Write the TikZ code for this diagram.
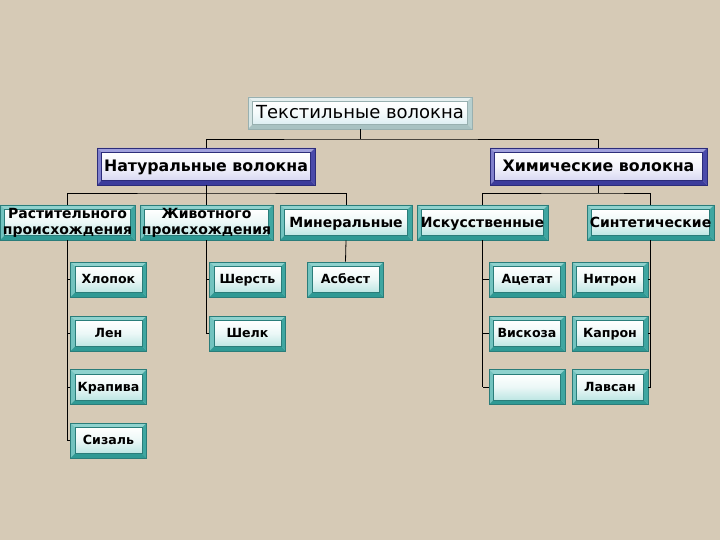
\documentclass[tikz,border=0pt]{standalone}
\usepackage{fontspec}
\setmainfont{DejaVu Sans}
\definecolor{bg}{HTML}{D6CAB6}
\definecolor{tealT}{HTML}{8FD2CE}
\definecolor{tealL}{HTML}{72C3BF}
\definecolor{tealBt}{HTML}{2F9994}
\definecolor{tealR}{HTML}{3FA6A1}
\definecolor{tealF}{HTML}{BDE6E3}
\definecolor{tealK}{HTML}{2A7D7A}
\definecolor{blueT}{HTML}{A0A0DC}
\definecolor{blueL}{HTML}{8080CC}
\definecolor{blueBt}{HTML}{3C3C9C}
\definecolor{blueR}{HTML}{4A4AAA}
\definecolor{blueF}{HTML}{D8D8F2}
\definecolor{blueK}{HTML}{2C2C7A}
\definecolor{grayT}{HTML}{E6F0F0}
\definecolor{grayL}{HTML}{D6E6E6}
\definecolor{grayBt}{HTML}{A8C2C2}
\definecolor{grayR}{HTML}{B6CFCF}
\definecolor{grayF}{HTML}{DCEFF2}
\definecolor{grayK}{HTML}{98B0B0}
\newcommand\bevelpic[7]{%
  \coordinate (pSW) at (path picture bounding box.south west);
  \coordinate (pNE) at (path picture bounding box.north east);
  \coordinate (pNW) at (pSW |- pNE);
  \coordinate (pSE) at (pNE |- pSW);
  \coordinate (iSW) at ([shift={(4.5pt,4.5pt)}]pSW);
  \coordinate (iNE) at ([shift={(-4.5pt,-4.5pt)}]pNE);
  \coordinate (iNW) at (iSW |- iNE);
  \coordinate (iSE) at (iNE |- iSW);
  \fill[#1] (pNW) -- (pNE) -- (iNE) -- (iNW) -- cycle;
  \fill[#2] (pNW) -- (pSW) -- (iSW) -- (iNW) -- cycle;
  \fill[#3] (pSW) -- (pSE) -- (iSE) -- (iSW) -- cycle;
  \fill[#4] (pSE) -- (pNE) -- (iNE) -- (iSE) -- cycle;
  \shade[top color=white, bottom color=#6, middle color=white!70!#6] (iSW) rectangle (iNE);
  \draw[#7, line width=0.5pt] (iSW) rectangle (iNE);
}
\tikzset{
  bx/.style={inner sep=0pt, line width=0.7pt},
  tealbox/.style={bx, draw=tealK, path picture={\bevelpic{tealT}{tealL}{tealBt}{tealR}{white}{tealF}{tealK}}},
  bluebox/.style={bx, draw=blueK, path picture={\bevelpic{blueT}{blueL}{blueBt}{blueR}{white}{blueF}{blueK}}},
  graybox/.style={bx, draw=grayK, path picture={\bevelpic{grayT}{grayL}{grayBt}{grayR}{white}{grayF}{grayK}}},
  leaf/.style={tealbox, minimum width=76pt, minimum height=35pt, text height=9.5pt, text depth=1.5pt, font=\bfseries\fontsize{12.6}{15}\selectfont},
  mid/.style={tealbox, minimum height=35pt, text height=10.5pt, text depth=1.5pt, font=\bfseries\fontsize{14}{16}\selectfont},
  twoline/.style={text height=, text depth=, align=center},
  lvl/.style={bluebox, minimum height=37pt, text height=11.5pt, text depth=1.5pt, font=\bfseries\fontsize{15.8}{19}\selectfont},
  conn/.style={draw=black, line width=0.8pt}
}
\begin{document}
\begin{tikzpicture}[x=1pt, y=-1pt]
\fill[bg] (0,0) rectangle (720,540);
\useasboundingbox (0,0) rectangle (720,540);
% top
\node[graybox, minimum width=224pt, minimum height=32pt, text height=13pt, text depth=1.5pt, font=\fontsize{18}{21}\selectfont] (top) at (360,113) {Текстильные волокна};
% level 1
\node[lvl, minimum width=218pt] (nat) at (206,166.5) {Натуральные волокна};
\node[lvl, minimum width=217pt] (chem) at (598.5,166.5) {Химические волокна};
% level 2
\node[mid, twoline, minimum width=135pt] (rast) at (67.5,222.5) {Растительного\\происхождения};
\node[mid, twoline, minimum width=133pt] (zhiv) at (206.5,222.5) {Животного\\происхождения};
\node[mid, minimum width=132pt] (min) at (346,222.5) {Минеральные};
\node[mid, minimum width=131pt] (isk) at (482.5,222.5) {Искусственные};
\node[mid, minimum width=127pt] (sint) at (650.5,222.5) {Синтетические};
% leaves
\node[leaf] (hlop) at (108.5,279.5) {Хлопок};
\node[leaf] (len) at (108.5,333.5) {Лен};
\node[leaf] (krap) at (108.5,387) {Крапива};
\node[leaf] (siz) at (108.5,440.5) {Сизаль};
\node[leaf] (sher) at (247.5,279.5) {Шерсть};
\node[leaf] (shelk) at (247.5,333.5) {Шелк};
\node[leaf] (asb) at (345.5,279.5) {Асбест};
\node[leaf] (acet) at (527,279.5) {Ацетат};
\node[leaf] (visk) at (527,333.5) {Вискоза};
\node[leaf] (empt) at (527,387) {};
\node[leaf] (nitr) at (610,279.5) {Нитрон};
\node[leaf] (kapr) at (610,333.5) {Капрон};
\node[leaf] (lavs) at (610,387) {Лавсан};
% connectors
\coordinate (b0) at (360,139);
\coordinate (b1) at (206,193);
\coordinate (b2) at (598.5,193);
\draw[conn] (top.south) -- (b0);
\draw[conn] (nat.north) |- (b0) -| (chem.north);
\draw[conn] (nat.south) -- (b1);
\draw[conn] (rast.north) |- (b1) -| (min.north);
\draw[conn] (zhiv.north) -- (zhiv.north |- b1);
\draw[conn] (chem.south) -- (b2);
\draw[conn] (isk.north) |- (b2) -| (sint.north);
% natural plant
\draw[conn] (rast.south) -- (rast.south |- siz.west);
\foreach \n in {hlop,len,krap,siz} \draw[conn] (\n.west) -- (\n.west -| rast.south);
% animal
\draw[conn] (zhiv.south) -- (zhiv.south |- shelk.west);
\foreach \n in {sher,shelk} \draw[conn] (\n.west) -- (\n.west -| zhiv.south);
% mineral
\draw[conn] (min.south) -- (asb.north);
% artificial
\draw[conn] (isk.south) -- (isk.south |- empt.west);
\foreach \n in {acet,visk,empt} \draw[conn] (\n.west) -- (\n.west -| isk.south);
% synthetic
\draw[conn] (sint.south) -- (sint.south |- lavs.east);
\foreach \n in {nitr,kapr,lavs} \draw[conn] (\n.east) -- (\n.east -| sint.south);
\end{tikzpicture}
\end{document}
